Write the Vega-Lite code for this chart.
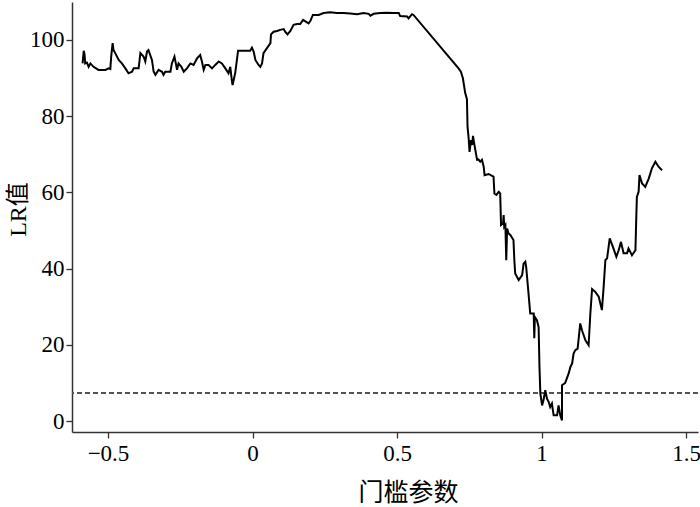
{
  "$schema": "https://vega.github.io/schema/vega-lite/v6.json",
  "autosize": {"type": "none"},
  "width": 626,
  "height": 430,
  "padding": {"left": 72, "top": 2, "right": 2, "bottom": 75},
  "background": "white",
  "config": {
    "view": {"stroke": null},
    "font": "Liberation Serif, Noto Sans CJK SC",
    "axis": {
      "grid": false,
      "domainColor": "#333333",
      "domainWidth": 1.5,
      "tickColor": "#333333",
      "tickWidth": 1.3,
      "tickSize": 6,
      "labelFont": "Liberation Serif",
      "labelFontSize": 23,
      "labelColor": "#000000",
      "titleFont": "Liberation Serif, Noto Sans CJK SC",
      "titleFontSize": 24,
      "titleFontWeight": "normal",
      "titleColor": "#000000"
    }
  },
  "data": {
    "values": [
      {"i":1,"x":-0.588,"y":93.8},{"i":2,"x":-0.584,"y":97.1},{"i":3,"x":-0.581,"y":96.0},{"i":4,"x":-0.579,"y":93.8},
      {"i":5,"x":-0.573,"y":94.0},{"i":6,"x":-0.567,"y":92.9},{"i":7,"x":-0.561,"y":93.8},{"i":8,"x":-0.550,"y":92.9},
      {"i":9,"x":-0.533,"y":92.1},{"i":10,"x":-0.509,"y":92.1},{"i":11,"x":-0.498,"y":92.5},{"i":12,"x":-0.492,"y":92.3},
      {"i":13,"x":-0.489,"y":95.6},{"i":14,"x":-0.484,"y":99.1},{"i":15,"x":-0.481,"y":97.3},{"i":16,"x":-0.475,"y":96.5},
      {"i":17,"x":-0.463,"y":94.7},{"i":18,"x":-0.452,"y":93.8},{"i":19,"x":-0.440,"y":92.5},{"i":20,"x":-0.429,"y":91.2},
      {"i":21,"x":-0.417,"y":91.6},{"i":22,"x":-0.411,"y":92.5},{"i":23,"x":-0.394,"y":92.5},{"i":24,"x":-0.388,"y":96.5},
      {"i":25,"x":-0.377,"y":95.6},{"i":26,"x":-0.371,"y":94.3},{"i":27,"x":-0.365,"y":96.9},{"i":28,"x":-0.360,"y":97.3},
      {"i":29,"x":-0.354,"y":96.0},{"i":30,"x":-0.348,"y":94.7},{"i":31,"x":-0.342,"y":91.6},{"i":32,"x":-0.336,"y":90.8},
      {"i":33,"x":-0.325,"y":92.1},{"i":34,"x":-0.313,"y":91.6},{"i":35,"x":-0.308,"y":90.8},{"i":36,"x":-0.302,"y":91.6},
      {"i":37,"x":-0.284,"y":91.6},{"i":38,"x":-0.279,"y":93.8},{"i":39,"x":-0.270,"y":95.6},{"i":40,"x":-0.261,"y":92.1},
      {"i":41,"x":-0.256,"y":93.8},{"i":42,"x":-0.246,"y":92.9},{"i":43,"x":-0.238,"y":91.6},{"i":44,"x":-0.227,"y":92.5},
      {"i":45,"x":-0.215,"y":93.8},{"i":46,"x":-0.204,"y":93.4},{"i":47,"x":-0.192,"y":95.1},{"i":48,"x":-0.181,"y":96.0},
      {"i":49,"x":-0.175,"y":94.3},{"i":50,"x":-0.169,"y":92.1},{"i":51,"x":-0.163,"y":93.4},{"i":52,"x":-0.152,"y":93.4},
      {"i":53,"x":-0.140,"y":92.5},{"i":54,"x":-0.129,"y":93.4},{"i":55,"x":-0.117,"y":94.3},{"i":56,"x":-0.106,"y":93.8},
      {"i":57,"x":-0.094,"y":92.5},{"i":58,"x":-0.083,"y":91.2},{"i":59,"x":-0.077,"y":92.9},{"i":60,"x":-0.071,"y":89.0},
      {"i":61,"x":-0.069,"y":88.1},{"i":62,"x":-0.060,"y":91.2},{"i":63,"x":-0.050,"y":97.1},{"i":64,"x":-0.008,"y":97.1},
      {"i":65,"x":-0.002,"y":97.9},{"i":66,"x":0.004,"y":96.9},{"i":67,"x":0.010,"y":94.7},{"i":68,"x":0.021,"y":93.4},
      {"i":69,"x":0.027,"y":92.9},{"i":70,"x":0.033,"y":93.8},{"i":71,"x":0.038,"y":96.5},{"i":72,"x":0.050,"y":97.8},
      {"i":73,"x":0.062,"y":99.1},{"i":74,"x":0.064,"y":101.4},{"i":75,"x":0.073,"y":102.1},{"i":76,"x":0.085,"y":102.3},
      {"i":77,"x":0.096,"y":102.6},{"i":78,"x":0.108,"y":102.8},{"i":79,"x":0.113,"y":102.1},{"i":80,"x":0.121,"y":101.4},
      {"i":81,"x":0.131,"y":102.3},{"i":82,"x":0.142,"y":103.9},{"i":83,"x":0.154,"y":104.1},{"i":84,"x":0.165,"y":104.1},
      {"i":85,"x":0.175,"y":105.2},{"i":86,"x":0.183,"y":104.8},{"i":87,"x":0.194,"y":104.3},{"i":88,"x":0.200,"y":104.9},
      {"i":89,"x":0.209,"y":106.5},{"i":90,"x":0.229,"y":106.5},{"i":91,"x":0.246,"y":107.0},{"i":92,"x":0.269,"y":107.2},
      {"i":93,"x":0.292,"y":107.0},{"i":94,"x":0.315,"y":107.0},{"i":95,"x":0.338,"y":106.9},{"i":96,"x":0.362,"y":106.7},
      {"i":97,"x":0.384,"y":107.0},{"i":98,"x":0.402,"y":106.8},{"i":99,"x":0.408,"y":106.3},{"i":100,"x":0.419,"y":106.8},
      {"i":101,"x":0.442,"y":107.0},{"i":102,"x":0.465,"y":107.1},{"i":103,"x":0.488,"y":107.0},{"i":104,"x":0.506,"y":107.0},
      {"i":105,"x":0.511,"y":106.2},{"i":106,"x":0.535,"y":106.1},{"i":107,"x":0.540,"y":105.6},{"i":108,"x":0.552,"y":106.7},
      {"i":109,"x":0.557,"y":106.5},{"i":110,"x":0.713,"y":92.5},{"i":111,"x":0.721,"y":91.6},{"i":112,"x":0.728,"y":89.9},
      {"i":113,"x":0.736,"y":86.0},{"i":114,"x":0.742,"y":84.4},{"i":115,"x":0.744,"y":77.2},{"i":116,"x":0.748,"y":74.1},
      {"i":117,"x":0.751,"y":70.6},{"i":118,"x":0.756,"y":73.7},{"i":119,"x":0.760,"y":72.4},{"i":120,"x":0.763,"y":74.8},
      {"i":121,"x":0.765,"y":73.7},{"i":122,"x":0.771,"y":71.1},{"i":123,"x":0.777,"y":68.5},{"i":124,"x":0.782,"y":68.6},
      {"i":125,"x":0.788,"y":68.0},{"i":126,"x":0.794,"y":68.5},{"i":127,"x":0.800,"y":66.7},{"i":128,"x":0.803,"y":64.5},
      {"i":129,"x":0.817,"y":64.8},{"i":130,"x":0.829,"y":64.3},{"i":131,"x":0.834,"y":64.1},{"i":132,"x":0.837,"y":59.7},
      {"i":133,"x":0.844,"y":59.3},{"i":134,"x":0.852,"y":60.1},{"i":135,"x":0.857,"y":59.7},{"i":136,"x":0.860,"y":51.4},
      {"i":137,"x":0.867,"y":51.8},{"i":138,"x":0.869,"y":54.0},{"i":139,"x":0.871,"y":50.9},{"i":140,"x":0.875,"y":51.4},
      {"i":141,"x":0.878,"y":42.2},{"i":142,"x":0.881,"y":50.5},{"i":143,"x":0.886,"y":49.2},{"i":144,"x":0.892,"y":48.8},
      {"i":145,"x":0.903,"y":47.5},{"i":146,"x":0.906,"y":42.2},{"i":147,"x":0.909,"y":38.7},{"i":148,"x":0.921,"y":37.0},
      {"i":149,"x":0.933,"y":38.3},{"i":150,"x":0.938,"y":41.3},{"i":151,"x":0.944,"y":41.8},{"i":152,"x":0.947,"y":40.4},
      {"i":153,"x":0.955,"y":33.5},{"i":154,"x":0.961,"y":28.2},{"i":155,"x":0.973,"y":28.2},{"i":156,"x":0.975,"y":21.7},
      {"i":157,"x":0.977,"y":27.3},{"i":158,"x":0.984,"y":26.5},{"i":159,"x":0.990,"y":24.7},{"i":160,"x":0.993,"y":14.2},
      {"i":161,"x":0.996,"y":7.2},{"i":162,"x":1.002,"y":4.1},{"i":163,"x":1.007,"y":5.5},{"i":164,"x":1.013,"y":8.1},
      {"i":165,"x":1.019,"y":5.9},{"i":166,"x":1.025,"y":5.0},{"i":167,"x":1.030,"y":3.7},{"i":168,"x":1.036,"y":4.6},
      {"i":169,"x":1.042,"y":1.5},{"i":170,"x":1.054,"y":1.5},{"i":171,"x":1.059,"y":4.1},{"i":172,"x":1.065,"y":1.5},
      {"i":173,"x":1.071,"y":0.2},{"i":174,"x":1.071,"y":9.4},{"i":175,"x":1.082,"y":10.0},{"i":176,"x":1.094,"y":12.5},
      {"i":177,"x":1.100,"y":14.2},{"i":178,"x":1.106,"y":15.1},{"i":179,"x":1.111,"y":17.7},{"i":180,"x":1.117,"y":18.6},
      {"i":181,"x":1.125,"y":19.0},{"i":182,"x":1.128,"y":21.2},{"i":183,"x":1.134,"y":25.6},{"i":184,"x":1.140,"y":23.8},
      {"i":185,"x":1.152,"y":21.2},{"i":186,"x":1.163,"y":19.9},{"i":187,"x":1.169,"y":28.2},{"i":188,"x":1.175,"y":34.6},
      {"i":189,"x":1.186,"y":33.9},{"i":190,"x":1.198,"y":32.6},{"i":191,"x":1.209,"y":29.1},{"i":192,"x":1.215,"y":35.2},
      {"i":193,"x":1.221,"y":42.2},{"i":194,"x":1.227,"y":42.7},{"i":195,"x":1.236,"y":47.9},{"i":196,"x":1.247,"y":45.7},
      {"i":197,"x":1.259,"y":43.1},{"i":198,"x":1.267,"y":44.8},{"i":199,"x":1.275,"y":47.0},{"i":200,"x":1.284,"y":44.0},
      {"i":201,"x":1.296,"y":44.0},{"i":202,"x":1.301,"y":45.3},{"i":203,"x":1.313,"y":43.5},{"i":204,"x":1.325,"y":44.8},
      {"i":205,"x":1.328,"y":53.6},{"i":206,"x":1.330,"y":58.8},{"i":207,"x":1.336,"y":60.1},{"i":208,"x":1.339,"y":64.5},
      {"i":209,"x":1.348,"y":62.3},{"i":210,"x":1.359,"y":61.4},{"i":211,"x":1.371,"y":63.6},{"i":212,"x":1.382,"y":66.3},
      {"i":213,"x":1.394,"y":68.0},{"i":214,"x":1.405,"y":66.7},{"i":215,"x":1.417,"y":65.8}
    ]
  },
  "layer": [
    {
      "mark": {"type": "rule", "color": "#555555", "strokeWidth": 1.3, "strokeDash": [5, 3]},
      "encoding": {"y": {"datum": 7.35, "type": "quantitative"}}
    },
    {
      "mark": {"type": "line", "color": "#000000", "strokeWidth": 2, "clip": true},
      "encoding": {
        "x": {
          "field": "x", "type": "quantitative",
          "scale": {"domain": [-0.6246, 1.5415], "nice": false, "zero": false},
          "axis": {
            "values": [-0.5, 0, 0.5, 1, 1.5],
            "format": "~g",
            "title": "门槛参数",
            "labelPadding": 4,
            "titleX": 336,
            "titleY": 60,
            "titleBaseline": "middle",
            "titleFontSize": 25
          }
        },
        "y": {
          "field": "y", "type": "quantitative",
          "scale": {"domain": [-2.86, 109.9], "nice": false, "zero": false},
          "axis": {
            "values": [0, 20, 40, 60, 80, 100],
            "title": "LR值",
            "labelPadding": 2,
            "titleX": -54,
            "titleY": 207,
            "titleBaseline": "middle",
            "titleAngle": -90
          }
        },
        "order": {"field": "i", "type": "quantitative"}
      }
    }
  ]
}
